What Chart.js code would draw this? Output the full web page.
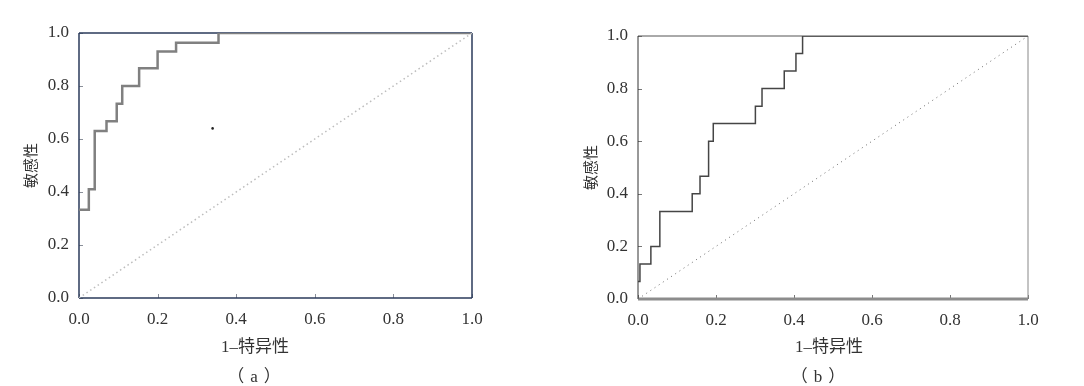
<!DOCTYPE html>
<html>
<head>
<meta charset="utf-8">
<script src="https://cdn.jsdelivr.net/npm/chart.js@4"></script>
<style>
  body { margin: 0; background: #fff; width: 1084px; height: 386px; overflow: hidden; position: relative; }
  canvas { position: absolute; top: 0; }
  #chartA { left: 0; }
  #chartB { left: 560px; }
  .lbl { position: absolute; width: 200px; text-align: center; line-height: 20px;
         font-family: "Liberation Serif", "Noto Sans CJK SC", serif; font-size: 17px; color: #333; }
  .cap span { margin: 0 6px; }
</style>
</head>
<body>
<canvas id="chartA" width="520" height="386"></canvas>
<canvas id="chartB" width="524" height="386"></canvas>
<div class="lbl" style="left:155px;top:337px">1–特异性</div>
<div class="lbl cap" style="left:154px;top:367px">（<span>a</span>）</div>
<div class="lbl" style="left:729px;top:337px">1–特异性</div>
<div class="lbl cap" style="left:718px;top:367px">（<span>b</span>）</div>
<script>
// ---- data ----
const tickLabels = ["0.0", "0.2", "0.4", "0.6", "0.8", "1.0"];
const yTitle = "敏感性";

// (a) ROC curve, step corners (1-特异性, 敏感性)
const fprA = [0, 0.025, 0.04, 0.07, 0.096, 0.11, 0.153, 0.2, 0.247, 0.355, 1.0];
const tprA = [0.333, 0.41, 0.63, 0.667, 0.733, 0.8, 0.867, 0.93, 0.963, 1.0, 1.0];
// small stray dot in (a)
const strayX = [0.34];
const strayY = [0.64];

// (b) ROC curve
const fprB = [0, 0.005, 0.033, 0.056, 0.139, 0.159, 0.181, 0.193, 0.301, 0.318, 0.375, 0.405, 0.422, 1.0];
const tprB = [0.067, 0.133, 0.2, 0.333, 0.4, 0.467, 0.6, 0.667, 0.733, 0.8, 0.867, 0.933, 1.0, 1.0];

// reference diagonal
const diagX = [0, 1];
const diagY = [0, 1];

const toPts = (xs, ys) => xs.map((x, i) => ({ x: x, y: ys[i] }));

// frame around the plot + small inward ticks
const framePlugin = {
  id: "frame",
  beforeDatasetsDraw(chart, args, opts) {
    const { ctx, chartArea: a, scales } = chart;
    ctx.save();
    ctx.strokeStyle = opts.tickColor;
    ctx.lineWidth = 1;
    scales.x.ticks.forEach(t => {
      const px = Math.round(scales.x.getPixelForValue(t.value)) + 0.5;
      ctx.beginPath(); ctx.moveTo(px, a.bottom); ctx.lineTo(px, a.bottom - 4); ctx.stroke();
    });
    scales.y.ticks.forEach(t => {
      const py = Math.round(scales.y.getPixelForValue(t.value)) + 0.5;
      ctx.beginPath(); ctx.moveTo(a.left, py); ctx.lineTo(a.left + 4, py); ctx.stroke();
    });
    const ends = {
      top: [a.left, a.top, a.right, a.top],
      right: [a.right, a.top, a.right, a.bottom],
      bottom: [a.left, a.bottom, a.right, a.bottom],
      left: [a.left, a.top, a.left, a.bottom]
    };
    opts.sides.forEach(s => {
      const e = ends[s.side];
      ctx.strokeStyle = s.color;
      ctx.lineWidth = s.width;
      ctx.beginPath(); ctx.moveTo(e[0], e[1]); ctx.lineTo(e[2], e[3]); ctx.stroke();
    });
    ctx.restore();
  }
};

const tickFont = { family: "'Liberation Serif', serif", size: 17 };

function makeChart(id, c) {
  return new Chart(document.getElementById(id), {
    type: "line",
    data: { datasets: c.datasets },
    options: {
      responsive: false,
      animation: false,
      layout: { padding: { top: c.top, right: c.right, bottom: 0, left: 0 } },
      plugins: {
        legend: { display: false },
        tooltip: { enabled: false },
        frame: { sides: c.sides, tickColor: c.tickColor }
      },
      elements: { point: { radius: 0 } },
      scales: {
        x: {
          type: "linear", min: 0, max: 1,
          grid: { display: false, drawTicks: false },
          border: { display: false },
          ticks: { stepSize: 0.2, padding: 11, color: "#333", font: tickFont,
                   callback: (v, i) => tickLabels[i] },
          afterFit: s => { s.height = c.xh; }
        },
        y: {
          min: 0, max: 1,
          grid: { display: false, drawTicks: false },
          border: { display: false },
          ticks: { stepSize: 0.2, padding: 10, color: "#333", font: tickFont,
                   callback: (v, i) => tickLabels[i] },
          title: { display: true, text: yTitle, color: "#333",
                   font: { family: "'Noto Sans CJK SC', sans-serif", size: 15 },
                   padding: { top: c.ytp, bottom: 0 } },
          afterFit: s => { s.width = c.yw; }
        }
      }
    },
    plugins: [framePlugin]
  });
}

makeChart("chartA", {
  top: 33, right: 48, xh: 88, yw: 79, ytp: 21,
  tickColor: "#8a8f99",
  sides: [
    { side: "top", color: "#2a3a5a", width: 1.5 },
    { side: "right", color: "#2a3a5a", width: 1.5 },
    { side: "bottom", color: "#2a3a5a", width: 1.5 },
    { side: "left", color: "#2a3a5a", width: 1.5 }
  ],
  datasets: [
    { data: toPts(diagX, diagY), borderColor: "#bdbdbd", borderWidth: 1.5, borderDash: [1.5, 3] },
    { data: toPts(fprA, tprA), stepped: "before", borderColor: "#808080", borderWidth: 2.5 },
    { data: toPts(strayX, strayY), showLine: false, pointRadius: 1.3,
      pointBackgroundColor: "#222", pointBorderWidth: 0 }
  ]
});

makeChart("chartB", {
  top: 36, right: 56, xh: 87, yw: 78, ytp: 21,
  tickColor: "#777",
  sides: [
    { side: "top", color: "#555", width: 1 },
    { side: "right", color: "#888", width: 1 },
    { side: "bottom", color: "#8c8c8c", width: 3 },
    { side: "left", color: "#333", width: 1 }
  ],
  datasets: [
    { data: toPts(diagX, diagY), borderColor: "#6a6a6a", borderWidth: 1, borderDash: [1, 4] },
    { data: toPts(fprB, tprB), stepped: "before", borderColor: "#454545", borderWidth: 1.5 }
  ]
});
</script>
</body>
</html>
